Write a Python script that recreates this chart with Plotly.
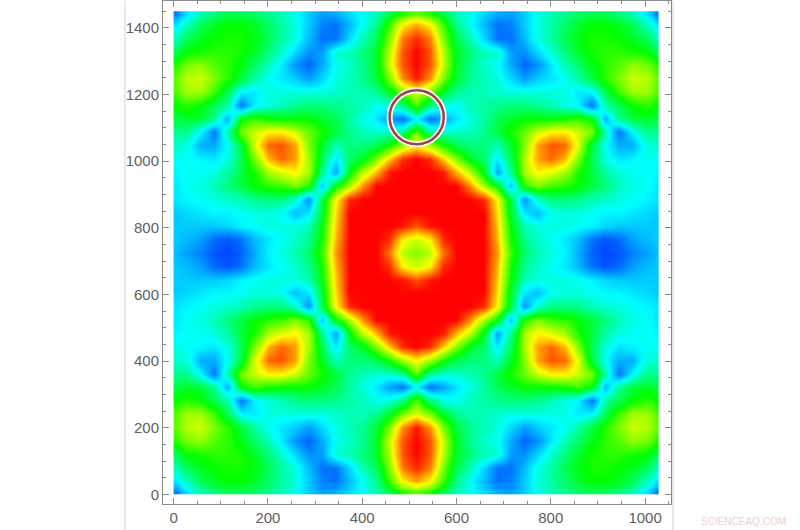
import plotly.graph_objects as go

# field level, 0 = blue ... 100 = red
field = [
    [8,22,32,38,42,42,40,36,32,27,18,12,14,20,26,32,42,54,60,54,42,32,26,20,14,12,18,27,32,36,40,42,42,38,32,22,8],
    [22,32,42,47,50,50,46,40,34,28,18,8,6,16,26,36,56,76,84,76,56,36,26,16,6,8,18,28,34,40,46,50,50,47,42,32,22],
    [32,42,47,50,52,52,48,42,34,28,16,6,6,20,32,42,62,88,96,88,62,42,32,20,6,6,16,28,34,42,48,52,52,50,47,42,32],
    [42,50,52,54,54,52,46,38,30,20,10,12,30,32,38,46,68,92,100,92,68,46,38,32,30,12,10,20,30,38,46,52,54,54,52,50,42],
    [54,62,64,58,54,48,40,32,22,10,4,14,26,30,36,46,70,92,100,92,70,46,36,30,26,14,4,10,22,32,40,48,54,58,64,62,54],
    [60,68,70,62,54,44,34,26,22,18,12,20,28,32,36,44,62,86,98,86,62,44,36,32,28,20,12,18,22,26,34,44,54,62,70,68,60],
    [58,66,66,56,42,24,22,28,28,28,28,28,30,32,32,36,46,62,72,62,46,36,32,32,30,28,28,28,28,28,22,24,42,56,66,66,58],
    [50,54,50,42,34,6,24,28,32,36,38,38,36,34,32,26,28,38,58,38,28,26,32,34,36,38,38,36,32,28,24,6,34,42,50,54,50],
    [44,46,44,36,14,50,56,52,50,50,50,46,42,34,28,22,12,6,24,6,12,22,28,34,42,46,50,50,50,52,56,50,14,36,44,46,44],
    [36,36,24,6,34,62,70,76,76,70,60,52,44,36,32,30,30,36,60,36,30,30,32,36,44,52,60,70,76,76,70,62,34,6,24,36,36],
    [30,28,14,14,26,44,72,90,92,84,62,46,32,38,38,42,52,66,76,66,52,42,38,38,32,46,62,84,92,90,72,44,26,14,14,28,30],
    [26,26,24,22,28,42,62,82,90,84,66,42,22,40,46,62,80,96,100,96,80,62,46,40,22,42,66,84,90,82,62,42,28,22,24,26,26],
    [24,26,26,28,34,44,52,66,72,76,66,36,12,48,68,82,98,100,100,100,98,82,68,48,12,36,66,76,72,66,52,44,34,28,26,26,24],
    [22,26,28,32,38,44,50,54,56,62,54,16,50,66,86,100,100,100,100,100,100,100,86,66,50,16,54,62,56,54,50,44,38,32,28,26,22],
    [22,24,26,28,30,32,36,38,38,30,10,44,75,96,100,100,100,100,100,100,100,100,100,96,75,44,10,30,38,38,36,32,30,28,26,24,22],
    [18,20,22,24,24,26,28,28,26,16,22,46,78,100,100,100,100,100,100,100,100,100,100,100,78,46,22,16,26,28,28,26,24,24,22,20,18],
    [18,18,18,18,20,24,26,28,28,28,32,50,80,100,100,100,100,98,92,98,100,100,100,100,80,50,32,28,28,28,26,24,20,18,18,18,18],
    [18,16,12,5,2,6,16,22,26,30,36,52,82,100,100,100,96,76,70,76,96,100,100,100,82,52,36,30,26,22,16,6,2,5,12,16,18],
    [16,12,8,2,0,4,14,24,28,32,40,56,85,100,100,100,88,68,62,68,88,100,100,100,85,56,40,32,28,24,14,4,0,2,8,12,16],
    [18,16,12,5,2,6,16,22,26,30,36,52,82,100,100,100,96,76,70,76,96,100,100,100,82,52,36,30,26,22,16,6,2,5,12,16,18],
    [18,18,18,18,20,24,26,28,28,28,32,50,80,100,100,100,100,98,92,98,100,100,100,100,80,50,32,28,28,28,26,24,20,18,18,18,18],
    [18,20,22,24,24,26,28,28,26,16,22,46,78,100,100,100,100,100,100,100,100,100,100,100,78,46,22,16,26,28,28,26,24,24,22,20,18],
    [22,24,26,28,30,32,36,38,38,30,10,44,75,96,100,100,100,100,100,100,100,100,100,96,75,44,10,30,38,38,36,32,30,28,26,24,22],
    [22,26,28,32,38,44,50,54,56,62,54,16,50,66,86,100,100,100,100,100,100,100,86,66,50,16,54,62,56,54,50,44,38,32,28,26,22],
    [24,26,26,28,34,44,52,66,72,76,66,36,12,48,68,82,98,100,100,100,98,82,68,48,12,36,66,76,72,66,52,44,34,28,26,26,24],
    [26,26,24,22,28,42,62,82,90,84,66,42,22,40,46,62,80,96,100,96,80,62,46,40,22,42,66,84,90,82,62,42,28,22,24,26,26],
    [30,28,14,14,26,44,72,90,92,84,62,46,32,38,38,42,52,66,76,66,52,42,38,38,32,46,62,84,92,90,72,44,26,14,14,28,30],
    [36,36,24,6,34,62,70,76,76,70,60,52,44,36,32,30,30,36,60,36,30,30,32,36,44,52,60,70,76,76,70,62,34,6,24,36,36],
    [44,46,44,36,14,50,56,52,50,50,50,46,42,34,28,22,12,6,24,6,12,22,28,34,42,46,50,50,50,52,56,50,14,36,44,46,44],
    [50,54,50,42,34,6,24,28,32,36,38,38,36,34,32,26,28,38,58,38,28,26,32,34,36,38,38,36,32,28,24,6,34,42,50,54,50],
    [58,66,66,56,42,24,22,28,28,28,28,28,30,32,32,36,46,62,72,62,46,36,32,32,30,28,28,28,28,28,22,24,42,56,66,66,58],
    [60,68,70,62,54,44,34,26,22,18,12,20,28,32,36,44,62,86,98,86,62,44,36,32,28,20,12,18,22,26,34,44,54,62,70,68,60],
    [54,62,64,58,54,48,40,32,22,10,4,14,26,30,36,46,70,92,100,92,70,46,36,30,26,14,4,10,22,32,40,48,54,58,64,62,54],
    [42,50,52,54,54,52,46,38,30,20,10,12,30,32,38,46,68,92,100,92,68,46,38,32,30,12,10,20,30,38,46,52,54,54,52,50,42],
    [32,42,47,50,52,52,48,42,34,28,16,6,6,20,32,42,62,88,96,88,62,42,32,20,6,6,16,28,34,42,48,52,52,50,47,42,32],
    [22,32,42,47,50,50,46,40,34,28,18,8,6,16,26,36,56,76,84,76,56,36,26,16,6,8,18,28,34,40,46,50,50,47,42,32,22],
    [8,22,32,38,42,42,40,36,32,27,18,12,14,20,26,32,42,54,60,54,42,32,26,20,14,12,18,27,32,36,40,42,42,38,32,22,8],
]

x_step = 28.6
y_step = 40.28
n_x = 37
n_y = 37

x_ticks = [0, 200, 400, 600, 800, 1000]
y_ticks = [0, 200, 400, 600, 800, 1000, 1200, 1400]

hue_scale = [
    [0.0, 'rgb(0,70,255)'],
    [0.25, 'rgb(0,255,255)'],
    [0.5, 'rgb(0,255,0)'],
    [0.75, 'rgb(255,255,0)'],
    [1.0, 'rgb(255,0,0)'],
]

# cell edges, the outer cells are half width so the image stops on the last sample
x_edges = [0] + [(i + 0.5) * x_step for i in range(n_x - 1)] + [(n_x - 1) * x_step]
y_edges = [0] + [(i + 0.5) * y_step for i in range(n_y - 1)] + [(n_y - 1) * y_step]

fig = go.Figure()

fig.add_trace(go.Heatmap(z=field, x=x_edges, y=y_edges, colorscale=hue_scale,
                         zmin=0, zmax=100, zsmooth='best', showscale=False,
                         hoverinfo='skip'))

axis_style = dict(showgrid=False, zeroline=False, showline=True, mirror='ticks',
                  linecolor='#8a8a8a', linewidth=1, ticks='inside', ticklen=6,
                  tickcolor='#8a8a8a', tickwidth=1,
                  tickfont=dict(family='Liberation Sans', size=15, color='#606060'),
                  minor=dict(dtick=50, ticks='inside', ticklen=3, tickcolor='#8a8a8a', tickwidth=1))

fig.update_xaxes(range=[-22.5, 1055], tickvals=x_ticks, **axis_style)
fig.update_yaxes(range=[-29, 1481], tickvals=y_ticks, **axis_style)

# marked point: white halo under a dark red ring
fig.add_shape(type='circle', xref='x', yref='y', x0=458, x1=573, y0=1051, y1=1213,
              line=dict(color='white', width=6))
fig.add_shape(type='circle', xref='x', yref='y', x0=458, x1=573, y0=1051, y1=1213,
              line=dict(color='#a04045', width=2.5))

# page edges either side of the frame
for px in [-0.0748, 1.004]:
    fig.add_shape(type='line', xref='paper', yref='paper', x0=px, x1=px, y0=-0.06, y1=1,
                  line=dict(color='#d4d4d4', width=1))

fig.add_annotation(text='SCIENCEAQ.COM', xref='paper', yref='paper', x=1.1437, y=-0.034,
                   xanchor='center', yanchor='middle', showarrow=False,
                   font=dict(family='Liberation Sans', size=10, color='#f0cdd2'))

fig.update_layout(width=800, height=530, plot_bgcolor='white', paper_bgcolor='white',
                  margin=dict(l=163, r=129, t=1, b=26))

# the page's default body margin would push the figure 8px in
fig.write_html("out.html", config=dict(displayModeBar=False),
               post_script="document.body.style.margin='0';")
